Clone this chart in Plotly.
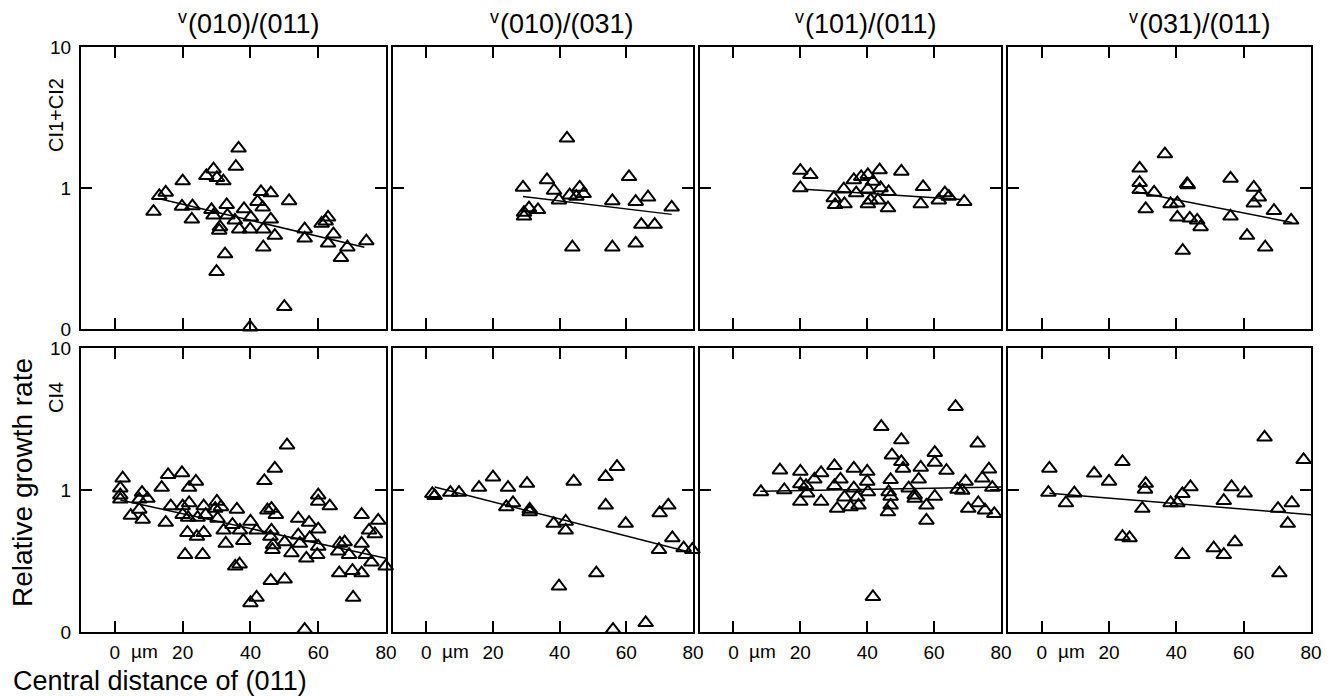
import plotly.graph_objects as go

# ---------------- data ----------------
col_titles = ["(010)/(011)", "(010)/(031)", "(101)/(011)", "(031)/(011)"]
title_prefix = "v"
row_labels = ["CI1+CI2", "CI4"]
x_tickvals = [0, 20, 40, 60, 80]
y_tickvals = [0.1, 1, 10]
y_ticktext = ["0", "1", "10"]

# top row (CI1+CI2)
x_t1 = [36.5, 35.7, 29.1, 27.0, 20.0, 30.1, 32.0, 15.0, 13.1, 11.4, 19.8, 22.9, 22.7, 28.5, 33.0,
        33.2, 29.1, 31.0, 30.8, 35.4, 38.1, 36.7, 39.9, 40.1, 43.1, 46.0, 42.1, 43.6, 46.0, 43.8,
        47.2, 51.4, 43.8, 32.5, 30.0, 50.0, 39.9, 56.0, 56.0, 61.0, 62.2, 62.9, 64.5, 62.9, 68.6,
        66.7, 74.2]
y_t1 = [1.91, 1.42, 1.36, 1.22, 1.12, 1.18, 1.12, 0.93, 0.88, 0.68, 0.74, 0.745, 0.60, 0.70, 0.76,
        0.64, 0.64, 0.53, 0.50, 0.59, 0.71, 0.51, 0.51, 0.62, 0.94, 0.92, 0.80, 0.73, 0.60, 0.51,
        0.46, 0.81, 0.38, 0.34, 0.255, 0.144, 0.103, 0.51, 0.44, 0.56, 0.58, 0.62, 0.47, 0.405, 0.38,
        0.32, 0.42]

x_t2 = [29.0, 29.3, 29.3, 30.8, 33.5, 36.2, 38.3, 39.8, 42.2, 43.0, 45.0, 46.0, 47.2, 43.8, 55.8,
        55.8, 60.8, 62.8, 64.5, 66.5, 68.5, 62.8, 73.6]
y_t2 = [1.01, 0.67, 0.63, 0.72, 0.70, 1.14, 0.96, 0.82, 2.25, 0.89, 0.87, 1.01, 0.91, 0.38, 0.81,
        0.38, 1.20, 0.80, 0.55, 0.86, 0.55, 0.405, 0.73]

x_t3 = [20.0, 23.0, 20.0, 30.0, 30.4, 33.0, 33.2, 36.0, 36.7, 38.2, 40.2, 41.7, 40.2, 43.7, 44.0,
        43.2, 40.2, 46.4, 46.2, 50.2, 56.7, 56.0, 61.4, 63.2, 64.4, 69.0, 41.0]
y_t3 = [1.33, 1.24, 1.0, 0.85, 0.76, 0.98, 0.77, 1.14, 0.92, 1.20, 1.24, 1.11, 0.98, 1.34, 1.0,
        0.82, 0.77, 0.94, 0.72, 1.31, 1.02, 0.77, 0.82, 0.92, 0.87, 0.80, 0.82]

x_t4 = [29.1, 29.1, 29.1, 36.6, 33.4, 30.9, 38.3, 40.3, 40.3, 43.2, 44.0, 46.2, 47.2, 41.9, 56.1,
        56.1, 63.0, 64.5, 63.0, 61.0, 69.0, 66.4, 74.1, 43.4]
y_t4 = [1.38, 1.09, 0.97, 1.74, 0.93, 0.71, 0.77, 0.78, 0.62, 1.07, 0.61, 0.59, 0.53, 0.36, 1.17,
        0.63, 1.01, 0.86, 0.78, 0.46, 0.69, 0.38, 0.59, 1.05]

# bottom row (CI4)
x_b1 = [2.3, 1.6, 1.6, 1.6, 4.7, 7.2, 8.0, 7.2, 9.6, 8.2, 13.8, 15.7, 15.0, 16.5, 19.8,
        21.9, 23.9, 20.0, 21.9, 20.0, 21.6, 24.4, 26.2, 26.8, 21.4, 24.2, 26.2, 20.7, 25.9, 30.1,
        31.3, 29.6, 30.3, 32.1, 32.7, 34.7, 36.0, 35.5, 36.8,
        37.9, 36.9, 40.0, 41.8, 45.0, 46.2, 47.5, 46.2, 45.9, 46.7, 46.5, 50.1, 52.1, 54.1, 54.1,
        54.6, 57.3, 57.5, 56.5, 60.0, 60.0, 59.7, 60.0, 60.0, 63.4, 50.8, 47.2, 44.1, 46.0, 50.1,
        41.8, 40.0, 56.0, 66.4, 67.8, 65.9, 69.1, 66.2, 70.1, 72.8, 70.3, 72.8, 72.8, 74.0, 75.0,
        77.7, 76.7, 75.7, 79.9]
y_b1 = [1.21, 1.03, 0.92, 0.86, 0.66, 0.73, 0.96, 0.86, 0.87, 0.62, 1.04, 1.28, 0.59, 0.77, 1.32,
        1.04, 1.15, 0.77, 0.81, 0.67, 0.64, 0.64, 0.77, 0.67, 0.50, 0.47, 0.50, 0.35, 0.35, 0.83,
        0.76, 0.74, 0.63, 0.52, 0.42, 0.57, 0.73, 0.29, 0.30,
        0.44, 0.52, 0.60, 0.52, 0.72, 0.74, 0.67, 0.52, 0.47, 0.41, 0.38, 0.43, 0.36, 0.63, 0.48,
        0.42, 0.59, 0.46, 0.33, 0.53, 0.40, 0.35, 0.92, 0.83, 0.77, 2.07, 1.42, 1.16, 0.23, 0.235,
        0.175, 0.16, 0.104, 0.42, 0.43, 0.37, 0.35, 0.26, 0.27, 0.26, 0.175, 0.67, 0.42, 0.35, 0.52,
        0.61, 0.49, 0.31, 0.29]

x_b2 = [1.8, 2.5, 7.2, 9.8, 15.8, 20.0, 24.5, 30.2, 24.0, 26.0, 31.0, 31.0, 38.2, 41.8, 41.8,
        44.2, 53.8, 57.2, 53.8, 59.8, 39.8, 51.0, 56.0, 65.8, 69.8, 70.0, 72.6, 73.8, 77.2, 79.8]
y_b2 = [0.94, 0.91, 0.96, 0.96, 1.04, 1.23, 1.04, 1.11, 0.76, 0.81, 0.73, 0.70, 0.58, 0.60, 0.52,
        1.15, 1.24, 1.46, 0.78, 0.58, 0.21, 0.26, 0.104, 0.116, 0.38, 0.69, 0.78, 0.46, 0.39, 0.38]

x_b3 = [8.2, 15.2, 13.9, 20.0, 20.0, 21.7, 22.0, 20.0, 24.2, 26.2, 26.2, 30.2, 30.2, 32.0, 33.2,
        31.0, 35.0, 36.0, 36.0, 37.0, 37.4, 40.0, 40.0, 40.2, 44.2, 47.0, 46.4, 47.0, 47.0, 46.2,
        47.4, 50.2, 50.2, 50.7, 52.4, 54.2, 54.2, 55.4, 56.0, 57.7, 57.7, 60.2, 60.2, 60.2, 63.7,
        66.4, 67.0, 68.4, 69.4, 73.0, 76.4, 74.4, 77.4, 70.2, 73.2, 75.2, 78.0, 80.4, 41.7]
y_b3 = [0.97, 1.0, 1.38, 1.35, 1.10, 1.07, 0.95, 0.83, 1.19, 1.32, 0.83, 1.48, 1.07, 1.19, 0.89,
        0.74, 0.76, 1.42, 1.03, 0.89, 0.78, 1.35, 1.15, 0.97, 2.79, 1.18, 0.97, 0.90, 0.78, 0.70,
        1.76, 2.25, 1.58, 1.42, 1.03, 0.92, 0.87, 1.19, 1.44, 0.78, 0.61, 1.83, 1.56, 0.90, 1.37,
        3.86, 1.01, 0.99, 1.15, 2.13, 1.40, 1.21, 1.04, 0.74, 0.81, 0.72, 0.68, 0.70, 0.177]

x_b4 = [2.3, 2.0, 7.2, 9.7, 15.6, 20.0, 24.0, 24.0, 26.1, 30.9, 30.7, 29.9, 38.3, 40.3, 41.8,
        44.2, 41.8, 51.1, 54.1, 57.4, 54.1, 56.4, 60.3, 66.2, 70.2, 73.1, 70.6, 74.3, 77.8, 80.1]
y_b4 = [1.42, 0.96, 0.81, 0.95, 1.31, 1.15, 1.58, 0.47, 0.46, 1.11, 1.01, 0.74, 0.81, 0.81, 0.94,
        1.05, 0.35, 0.39, 0.35, 0.43, 0.84, 1.05, 0.95, 2.35, 0.74, 0.58, 0.26, 0.81, 1.63, 0.81]

# regression lines (start / end), order: t1..t4, b1..b4
fit_x0 = [13.1, 29.0, 21.2, 27.9, 1.6, 2.5, 8.0, 2.3]
fit_x1 = [73.6, 73.6, 68.2, 74.3, 80.0, 80.0, 80.0, 80.0]
fit_y0 = [0.84, 0.87, 0.98, 0.94, 0.85, 1.05, 0.98, 0.95]
fit_y1 = [0.38, 0.65, 0.83, 0.57, 0.33, 0.36, 1.05, 0.67]

series_x = [x_t1, x_t2, x_t3, x_t4, x_b1, x_b2, x_b3, x_b4]
series_y = [y_t1, y_t2, y_t3, y_t4, y_b1, y_b2, y_b3, y_b4]

# ---------------- layout geometry (pixels) ----------------
W, H = 1336, 696
ML, MR, MT, MB = 81, 25, 47, 64
PW, PH = W - ML - MR, H - MT - MB
col_px = [(81, 386), (393, 693), (700, 1001), (1008, 1311)]
row_px = [(47, 329), (348, 632)]


def xd(px):
    return (px - ML) / PW


def yd(py):
    return (H - MB - py) / PH


FONT = "Liberation Sans, Arial, Helvetica, sans-serif"
fig = go.Figure()
layout = dict(
    width=W, height=H,
    margin=dict(l=ML, r=MR, t=MT, b=MB),
    paper_bgcolor="white", plot_bgcolor="white",
    showlegend=False,
    font=dict(family=FONT, color="black", size=18),
)

annotations = []
for r in range(2):
    for c in range(4):
        i = r * 4 + c
        n = i + 1
        xa = "x" if n == 1 else f"x{n}"
        ya = "y" if n == 1 else f"y{n}"
        fig.add_trace(go.Scatter(
            x=series_x[i], y=series_y[i], mode="markers",
            marker=dict(symbol="triangle-up-open", size=13, color="black",
                        line=dict(color="black", width=2)),
            cliponaxis=False, xaxis=xa, yaxis=ya, hoverinfo="x+y"))
        fig.add_trace(go.Scatter(
            x=[fit_x0[i], fit_x1[i]], y=[fit_y0[i], fit_y1[i]], mode="lines",
            line=dict(color="black", width=1.5), xaxis=xa, yaxis=ya, hoverinfo="skip"))
        x0, x1 = col_px[c]
        y0, y1 = row_px[r]
        layout["xaxis" if n == 1 else f"xaxis{n}"] = dict(
            domain=[xd(x0), xd(x1)], anchor=ya, range=[-10, 80],
            tickvals=x_tickvals, ticks="inside", ticklen=11, tickwidth=1.8,
            tickcolor="black", showline=True, linecolor="black", linewidth=2,
            mirror="ticks", showgrid=False, zeroline=False,
            showticklabels=(r == 1), ticklabelstandoff=2,
            tickfont=dict(size=19, family=FONT, color="black"))
        layout["yaxis" if n == 1 else f"yaxis{n}"] = dict(
            domain=[yd(y1), yd(y0)], anchor=xa, type="log", range=[-1, 1],
            tickvals=y_tickvals, ticktext=y_ticktext, ticks="inside", ticklen=11,
            tickwidth=1.8, tickcolor="black", showline=True, linecolor="black",
            linewidth=2, mirror="ticks", showgrid=False, zeroline=False,
            showticklabels=(c == 0), ticklabelstandoff=4,
            tickfont=dict(size=19, family=FONT, color="black"))
        if r == 1:
            annotations.append(dict(
                text="µm", x=8.8, xref=xa, y=yd(651), yref="paper",
                showarrow=False, xanchor="center", yanchor="middle",
                font=dict(size=19, family=FONT, color="black")))

# column titles: small raised "v" followed by the face pair
title_left = [186, 498, 803, 1137]
for c in range(4):
    annotations.append(dict(
        text=col_titles[c], x=xd(title_left[c]), y=yd(24),
        xref="paper", yref="paper", showarrow=False, xanchor="left",
        yanchor="middle", font=dict(size=27, family=FONT, color="black")))
    annotations.append(dict(
        text=title_prefix, x=xd(title_left[c] + 3), y=yd(17),
        xref="paper", yref="paper", showarrow=False, xanchor="right",
        yanchor="middle", font=dict(size=18, family=FONT, color="black")))

# row labels
row_cy = [115, 398]
for r in range(2):
    annotations.append(dict(
        text=row_labels[r], x=xd(56), y=yd(row_cy[r]), xref="paper", yref="paper",
        showarrow=False, textangle=-90, xanchor="center", yanchor="middle",
        font=dict(size=20, family=FONT, color="black")))

annotations.append(dict(
    text="Relative growth rate", x=xd(22), y=yd(483), xref="paper", yref="paper",
    showarrow=False, textangle=-90, xanchor="center", yanchor="middle",
    font=dict(size=28, family=FONT, color="black")))
annotations.append(dict(
    text="Central distance of (011)", x=xd(11), y=yd(681), xref="paper", yref="paper",
    showarrow=False, xanchor="left", yanchor="middle",
    font=dict(size=27, family=FONT, color="black")))

layout["annotations"] = annotations
fig.update_layout(**layout)

fig.write_html("out.html", config={"displayModeBar": False},
               post_script="document.body.style.margin='0';document.body.style.overflow='hidden';")
